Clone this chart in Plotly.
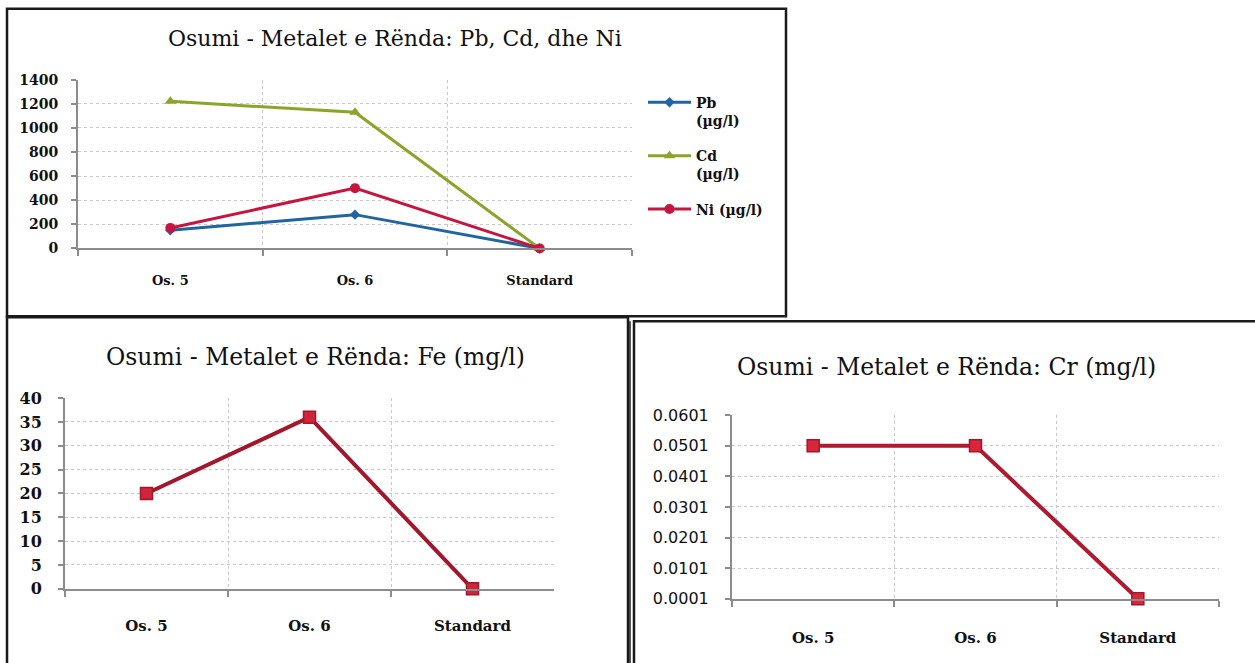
import plotly.graph_objects as go

W, H = 1255, 663

categories = ["Os. 5", "Os. 6", "Standard"]
pb_values = [150, 280, 0]
cd_values = [1220, 1130, 0]
ni_values = [170, 500, 0]
fe_values = [20, 36, 0]
cr_values = [0.0501, 0.0501, 0.0001]

title_1 = "Osumi - Metalet e Rënda: Pb, Cd, dhe Ni"
title_2 = "Osumi - Metalet e Rënda: Fe (mg/l)"
title_3 = "Osumi - Metalet e Rënda: Cr (mg/l)"
legend_names = ["Pb<br>(µg/l)", "Cd<br>(µg/l)", "Ni (µg/l)"]

# the photographed page shows a small vertical offset/compression; compensate for it
Y_OFF, Y_SCALE = 8.2, 0.973


def px_x(v):
    return v / W


def px_y(v):
    d = (v - Y_OFF) / Y_SCALE
    return 1 - d / H


SERIF = "DejaVu Serif"
GRID = "#c9c9c9"
AXIS = "#8c8c8c"

fig = go.Figure()

# Chart 1
fig.add_trace(go.Scatter(x=categories, y=pb_values, name=legend_names[0], mode="lines+markers",
                         line=dict(color="#22649f", width=3),
                         marker=dict(symbol="diamond", size=8, color="#22649f"),
                         xaxis="x", yaxis="y", cliponaxis=False, legendgroup="a"))
fig.add_trace(go.Scatter(x=categories, y=cd_values, name=legend_names[1], mode="lines+markers",
                         line=dict(color="#8aa52a", width=3),
                         marker=dict(symbol="triangle-up", size=10, color="#8aa52a"),
                         xaxis="x", yaxis="y", cliponaxis=False, legendgroup="b"))
fig.add_trace(go.Scatter(x=categories, y=ni_values, name=legend_names[2], mode="lines+markers",
                         line=dict(color="#c4163f", width=3),
                         marker=dict(symbol="circle", size=10, color="#c4163f"),
                         xaxis="x", yaxis="y", cliponaxis=False, legendgroup="c"))

# Chart 2
fig.add_trace(go.Scatter(x=categories, y=fe_values, mode="lines+markers", showlegend=False,
                         line=dict(color="#a3172c", width=4),
                         marker=dict(symbol="square", size=12, color="#d0243a",
                                     line=dict(color="#a3172c", width=1.5)),
                         xaxis="x2", yaxis="y2", cliponaxis=False))

# Chart 3
fig.add_trace(go.Scatter(x=categories, y=cr_values, mode="lines+markers", showlegend=False,
                         line=dict(color="#b01a2e", width=4),
                         marker=dict(symbol="square", size=12, color="#d8263c",
                                     line=dict(color="#a3172c", width=1.5)),
                         xaxis="x3", yaxis="y3", cliponaxis=False))


def xaxis_style(domain, size, standoff, anchor):
    return dict(domain=domain, type="category", tickson="boundaries", ticks="outside",
                ticklen=6, tickcolor=AXIS, tickwidth=2, showline=True, linecolor=AXIS,
                linewidth=2, showgrid=True, gridcolor=GRID, griddash="dot", gridwidth=1,
                range=[-0.5, 2.5], zeroline=False, ticklabelstandoff=standoff, anchor=anchor,
                tickfont=dict(family=SERIF, size=size, color="#111", weight="bold"))


def yaxis_style(domain, rng, dtick, tick0, fontfam, size, standoff, anchor, fmt=None, weight="bold"):
    d = dict(domain=domain, range=rng, dtick=dtick, tick0=tick0, ticks="outside",
             ticklen=5, tickcolor=AXIS, tickwidth=2, showline=True, linecolor=AXIS,
             linewidth=2, showgrid=True, gridcolor=GRID, griddash="dot", gridwidth=1,
             zeroline=False, anchor=anchor, ticklabelstandoff=standoff,
             tickfont=dict(family=fontfam, size=size, color="#111", weight=weight))
    if fmt:
        d["tickformat"] = fmt
    return d


fig.update_layout(
    width=W, height=H, margin=dict(l=0, r=0, t=0, b=0),
    paper_bgcolor="white", plot_bgcolor="white",
    xaxis=xaxis_style([px_x(78), px_x(632)], 13, 19, "y"),
    yaxis=yaxis_style([px_y(248), px_y(79)], [0, 1400], 200, 0, SERIF, 14, 10, "x"),
    xaxis2=xaxis_style([px_x(65), px_x(554)], 15, 22, "y2"),
    yaxis2=yaxis_style([px_y(589), px_y(398)], [0, 40], 5, 0, SERIF, 16, 13, "x2"),
    xaxis3=xaxis_style([px_x(732), px_x(1219)], 15, 24, "y3"),
    yaxis3=yaxis_style([px_y(599), px_y(415)], [0.0001, 0.0601], 0.01, 0.0001, "DejaVu Sans", 16, 13,
                       "x3", fmt=".4f", weight="normal"),
    showlegend=True,
    legend=dict(x=px_x(643), y=px_y(86), xanchor="left", yanchor="top", valign="top",
                tracegroupgap=14, itemwidth=43,
                font=dict(family=SERIF, size=14, color="#111", weight="bold"),
                bgcolor="rgba(0,0,0,0)"),
)

# Titles
for txt, cx, cy, size in [(title_1, 395, 38, 22), (title_2, 315, 357, 23.5), (title_3, 946, 367, 23.5)]:
    fig.add_annotation(x=px_x(cx), y=px_y(cy), xref="paper", yref="paper", text=txt,
                       showarrow=False, xanchor="center", yanchor="middle",
                       font=dict(family=SERIF, size=size, color="#111"))

# Frames around the three charts
frames = [
    (7, 8, 786, 316),
    (7, 317, 628, 720),
    (634, 321, 1262, 720),
]
for x0, y0, x1, y1 in frames:
    fig.add_shape(type="rect", xref="paper", yref="paper", x0=px_x(x0), x1=px_x(x1),
                  y0=px_y(y1), y1=px_y(y0), line=dict(color="#1a1a1a", width=2.5))
fig.add_shape(type="line", xref="paper", yref="paper", x0=px_x(630), x1=px_x(630),
              y0=px_y(720), y1=px_y(321), line=dict(color="#1a1a1a", width=1.5))

post = (
    "document.documentElement.style.overflow='hidden';"
    "document.body.style.margin='0px';"
    "document.body.style.overflow='hidden';"
    "var gd=document.getElementById('{plot_id}');"
    "gd.style.position='absolute';gd.style.top='0px';gd.style.left='0px';"
)
fig.write_html("out.html", config={"displayModeBar": False}, post_script=post)
